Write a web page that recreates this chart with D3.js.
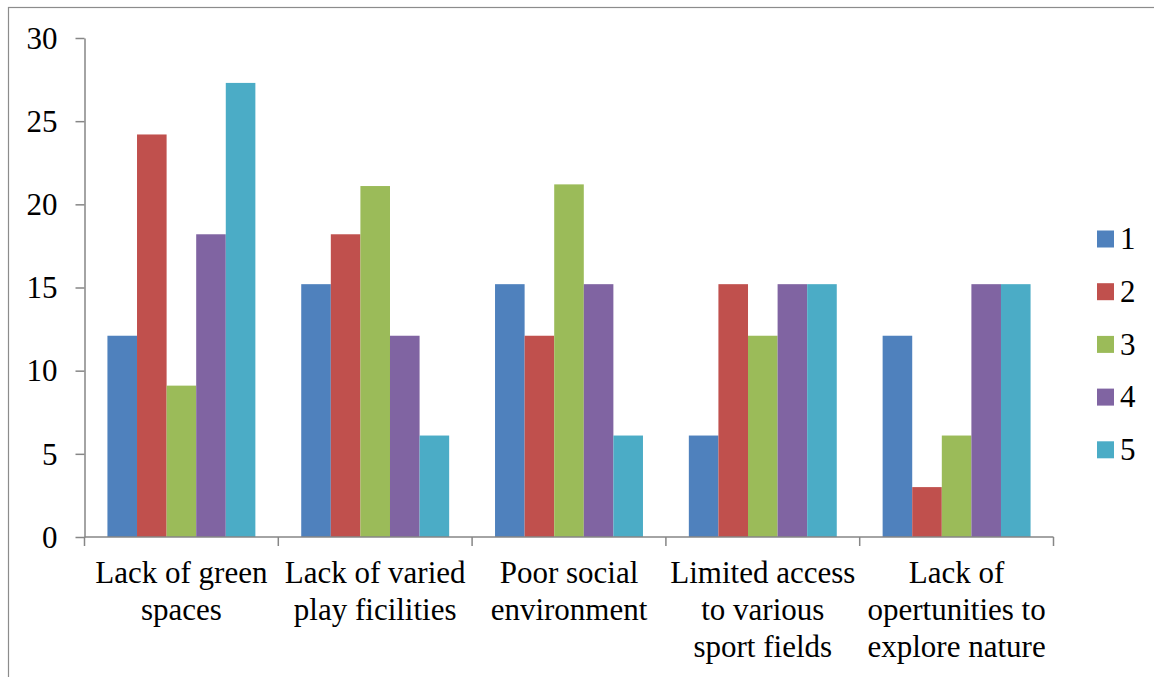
<!DOCTYPE html>
<html>
<head>
<meta charset="utf-8">
<script src="https://cdn.jsdelivr.net/npm/d3@7/dist/d3.min.js"></script>
</head>
<body style="margin:0">
<svg id="chart" width="1154" height="677"></svg>
<script>
// Problem categories (label lines as they wrap under each group)
const categories = [
  "Lack of green spaces",
  "Lack of varied play ficilities",
  "Poor social environment",
  "Limited access to various sport fields",
  "Lack of opertunities to explore nature"
];
const categoryLines = [
  ["Lack of green", "spaces"],
  ["Lack of varied", "play ficilities"],
  ["Poor social", "environment"],
  ["Limited access", "to various", "sport fields"],
  ["Lack of", "opertunities to", "explore nature"]
];
const seriesNames = ["1", "2", "3", "4", "5"];
// Percent of respondents per rating, one array per series
const series1 = [12.1, 15.2, 15.2, 6.1, 12.1];
const series2 = [24.2, 18.2, 12.1, 15.2, 3.0];
const series3 = [9.1, 21.1, 21.2, 12.1, 6.1];
const series4 = [18.2, 12.1, 15.2, 15.2, 15.2];
const series5 = [27.3, 6.1, 6.1, 15.2, 15.2];
const yTicks = [0, 5, 10, 15, 20, 25, 30];

const seriesValues = [series1, series2, series3, series4, series5];
const colors = ["#4F81BD", "#C0504D", "#9BBB59", "#8064A2", "#4BACC6"];

const FONT = "Tinos";
const FS = 31;
const axisColor = "#868686";

const svg = d3.select("#chart");

// outer frame
svg.append("rect")
  .attr("x", 8.5).attr("y", 7.5)
  .attr("width", 1160).attr("height", 700)
  .attr("fill", "none").attr("stroke", "#8c8c8c").attr("stroke-width", 1.2);

const plot = { left: 84.5, right: 1053.5, top: 38, bottom: 537 };

const x0 = d3.scaleBand()
  .domain(categories)
  .range([plot.left, plot.right])
  .paddingInner(0).paddingOuter(0);

const x1 = d3.scaleBand()
  .domain(seriesNames)
  .range([0, x0.bandwidth()])
  .paddingInner(0)
  .paddingOuter(0.775);

const y = d3.scaleLinear().domain([0, 30]).range([plot.bottom, plot.top]);

// bars
const groups = svg.append("g").selectAll("g")
  .data(categories)
  .join("g")
  .attr("transform", d => `translate(${x0(d)},0)`);

groups.selectAll("rect")
  .data((d, i) => seriesNames.map((s, j) => ({ s, v: seriesValues[j][i], c: colors[j] })))
  .join("rect")
  .attr("x", d => x1(d.s))
  .attr("y", d => y(d.v))
  .attr("width", x1.bandwidth())
  .attr("height", d => y(0) - y(d.v))
  .attr("fill", d => d.c);

// y axis
const yAxis = svg.append("g")
  .attr("transform", `translate(${plot.left},0)`)
  .call(d3.axisLeft(y).tickValues(yTicks).tickSize(9).tickSizeOuter(0).tickPadding(18));
yAxis.attr("font-family", FONT).attr("font-size", FS);
yAxis.select(".domain").attr("stroke", axisColor).attr("stroke-width", 1.5);
yAxis.selectAll(".tick line").attr("stroke", axisColor).attr("stroke-width", 1.5);
yAxis.selectAll(".tick text")
  .style("font-family", FONT)
  .attr("font-size", FS).attr("fill", "#000").attr("dy", "0.33em");

// x axis with boundary ticks between groups
const xAxisG = svg.append("g");
xAxisG.append("line")
  .attr("x1", plot.left).attr("x2", plot.right)
  .attr("y1", plot.bottom).attr("y2", plot.bottom)
  .attr("stroke", axisColor).attr("stroke-width", 1.5);
const bounds = categories.map(c => x0(c)).concat([plot.right]);
xAxisG.selectAll("line.tk")
  .data(bounds)
  .join("line")
  .attr("class", "tk")
  .attr("x1", d => d).attr("x2", d => d)
  .attr("y1", plot.bottom).attr("y2", plot.bottom + 9)
  .attr("stroke", axisColor).attr("stroke-width", 1.5);

// category labels, one text per line
const labelG = svg.append("g").selectAll("g")
  .data(categories)
  .join("g");
labelG.selectAll("text")
  .data((d, i) => categoryLines[i].map((line, k) => ({ line, k, cx: x0(d) + x0.bandwidth() / 2 })))
  .join("text")
  .attr("text-anchor", "middle")
  .style("font-family", FONT)
  .attr("font-size", FS)
  .attr("fill", "#000")
  .attr("x", d => d.cx)
  .attr("y", d => 583 + d.k * 37)
  .text(d => d.line);

// legend
const legend = svg.append("g").selectAll("g")
  .data(seriesNames)
  .join("g")
  .attr("transform", (d, i) => `translate(1097,${239 + i * 52.7})`);
legend.append("rect")
  .attr("x", 0).attr("y", -8.5)
  .attr("width", 17).attr("height", 17)
  .attr("fill", (d, i) => colors[i]);
legend.append("text")
  .attr("x", 23).attr("y", 0).attr("dy", "0.33em")
  .style("font-family", FONT)
  .attr("font-size", FS)
  .attr("fill", "#000")
  .text(d => d);
</script>
</body>
</html>
